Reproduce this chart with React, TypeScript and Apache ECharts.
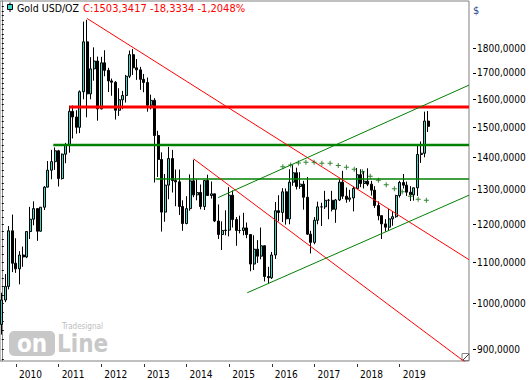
import React, { useEffect, useRef } from 'react';
import * as echarts from 'echarts';

// ---- data (monthly candles, Sep 2009 .. Sep 2019) ----
const START_YEAR = 2009;
const START_MONTH = 9;
const TOTAL_MONTHS = 132; // includes empty future months up to the right edge

const opens = [
  953, 1008, 1040, 1182,
  1097, 1083, 1118, 1113, 1180, 1214, 1244, 1181, 1248, 1307, 1359, 1386,
  1421, 1333, 1410, 1439, 1556, 1536, 1500, 1628, 1826, 1620, 1716, 1747,
  1565, 1740, 1710, 1669, 1664, 1560, 1598, 1614, 1687, 1773, 1720, 1712,
  1675, 1663, 1578, 1596, 1472, 1393, 1234, 1313, 1396, 1327, 1323, 1250,
  1202, 1244, 1326, 1284, 1291, 1250, 1327, 1282, 1287, 1209, 1172, 1183,
  1184, 1283, 1213, 1183, 1183, 1190, 1172, 1095, 1133, 1115, 1142, 1064,
  1061, 1118, 1238, 1233, 1293, 1215, 1322, 1351, 1309, 1316, 1277, 1173,
  1151, 1211, 1249, 1249, 1268, 1268, 1242, 1269, 1322, 1280, 1271, 1275,
  1303, 1345, 1318, 1325, 1316, 1298, 1253, 1224, 1201, 1192, 1215, 1221,
  1282, 1321, 1313, 1292, 1284, 1305, 1409, 1413, 1521.6751,
];
const highs = [
  1025, 1070, 1195, 1227,
  1162, 1128, 1140, 1180, 1249, 1265, 1245, 1248, 1310, 1388, 1424, 1432,
  1424, 1412, 1447, 1576, 1577, 1560, 1633, 1913, 1921, 1763, 1803, 1765,
  1764, 1791, 1720, 1678, 1668, 1641, 1631, 1692, 1790, 1796, 1755, 1724,
  1696, 1682, 1617, 1604, 1488, 1416, 1347, 1434, 1424, 1361, 1361, 1268,
  1280, 1346, 1392, 1331, 1315, 1326, 1345, 1324, 1287, 1256, 1208, 1239,
  1307, 1297, 1220, 1224, 1232, 1205, 1173, 1170, 1157, 1191, 1143, 1088,
  1126, 1263, 1283, 1304, 1303, 1362, 1375, 1367, 1353, 1326, 1338, 1182,
  1220, 1264, 1261, 1296, 1272, 1296, 1272, 1331, 1357, 1306, 1299, 1309,
  1366, 1362, 1356, 1365, 1326, 1310, 1265, 1225, 1214, 1243, 1237, 1284,
  1326, 1347, 1324, 1310, 1306, 1439, 1452, 1555, 1557,
];
const lows = [
  931, 1003, 1033, 1075,
  1073, 1045, 1088, 1110, 1160, 1197, 1155, 1180, 1240, 1308, 1331, 1360,
  1309, 1330, 1381, 1415, 1462, 1478, 1480, 1600, 1535, 1600, 1670, 1523,
  1563, 1687, 1627, 1613, 1527, 1540, 1564, 1588, 1680, 1692, 1673, 1635,
  1626, 1555, 1563, 1321, 1338, 1180, 1207, 1271, 1291, 1251, 1226, 1182,
  1200, 1238, 1277, 1268, 1242, 1240, 1281, 1273, 1206, 1160, 1131, 1170,
  1167, 1191, 1142, 1175, 1170, 1162, 1077, 1080, 1098, 1107, 1052, 1046,
  1058, 1108, 1208, 1206, 1199, 1200, 1311, 1300, 1302, 1241, 1171, 1122,
  1146, 1200, 1195, 1243, 1214, 1236, 1204, 1266, 1272, 1261, 1264, 1236,
  1302, 1307, 1303, 1310, 1282, 1246, 1211, 1160, 1180, 1182, 1196, 1218,
  1276, 1303, 1281, 1266, 1267, 1281, 1382, 1400, 1484,
];
const closes = [
  1008, 1040, 1182, 1097,
  1083, 1118, 1113, 1180, 1214, 1244, 1181, 1248, 1307, 1359, 1386, 1421,
  1333, 1410, 1439, 1556, 1536, 1500, 1628, 1826, 1620, 1716, 1747, 1565,
  1740, 1710, 1669, 1664, 1560, 1598, 1614, 1687, 1773, 1720, 1712, 1675,
  1663, 1578, 1596, 1472, 1393, 1234, 1313, 1396, 1327, 1323, 1250, 1202,
  1244, 1326, 1284, 1291, 1250, 1327, 1282, 1287, 1209, 1172, 1183, 1184,
  1283, 1213, 1183, 1183, 1190, 1172, 1095, 1133, 1115, 1142, 1064, 1061,
  1118, 1238, 1233, 1293, 1215, 1322, 1351, 1309, 1316, 1277, 1173, 1151,
  1211, 1249, 1249, 1268, 1268, 1242, 1269, 1322, 1280, 1271, 1275, 1303,
  1345, 1318, 1325, 1316, 1298, 1253, 1224, 1201, 1192, 1215, 1221, 1282,
  1321, 1313, 1292, 1284, 1305, 1409, 1413, 1521.6751, 1503.3417,
];

const yearLabels = ['2010', '2011', '2012', '2013', '2014', '2015', '2016', '2017', '2018', '2019'];
const priceLabels = [900, 1000, 1100, 1200, 1300, 1400, 1500, 1600, 1700, 1800];
const minorTicks = [
  880, 900, 920, 940, 960, 980, 1000, 1020, 1040, 1060, 1080, 1100, 1120, 1140, 1160, 1180,
  1200, 1220, 1240, 1260, 1280, 1300, 1320, 1340, 1360, 1380, 1400, 1420, 1440, 1460, 1480,
  1500, 1520, 1540, 1560, 1580, 1600, 1620, 1640, 1660, 1680, 1700, 1720, 1740, 1760, 1780,
  1800, 1820, 1840, 1860, 1880, 1900, 1920, 1940, 1960, 1980,
];

// drawings: [month index, price]
const redLevel = [[19, 1572], [131.5, 1572]];
const greenLevel = [[14.5, 1440], [131.5, 1440]];
const greenLevelThin = [[43.3, 1332], [131.5, 1332]];
const redTrendLong = [[24, 1927], [131.5, 1106]];
const redTrendShort = [[54, 1395], [131.5, 868]];
const greenChannelUpper = [[60.9, 1276], [131.5, 1653]];
const greenChannelLower = [[69.1, 1025], [131.5, 1283]];
const arcX = [79.1, 81.3, 83.5, 85.6, 87.9, 90.1, 92.4, 94.7, 97.0, 99.2, 101.5, 103.7, 106.0, 108.2, 110.5, 112.7, 115.0, 117.2, 119.5];
const arcY = [1370, 1375, 1382, 1384, 1384, 1381, 1381, 1374, 1368, 1362, 1354, 1340, 1328, 1314, 1302, 1293, 1280, 1271, 1268];

const categories: string[] = [];
for (let i = 0; i < TOTAL_MONTHS; i++) {
  const m = START_MONTH - 1 + i;
  categories.push(`${START_YEAR + Math.floor(m / 12)}-${String((m % 12) + 1).padStart(2, '0')}`);
}

const FONT = "Tahoma, 'DejaVu Sans Condensed', 'DejaVu Sans', sans-serif";
const BULL = '#3dd6ca';
const fmt4 = (v: number) => v.toFixed(4).replace('.', ',');

export default function App() {
  const ref = useRef<HTMLDivElement>(null);
  useEffect(() => {
    if (!ref.current) return;
    const chart = echarts.init(ref.current, undefined, { renderer: 'svg' });
    const candleData = opens.map((o, i) => [o, closes[i], lows[i], highs[i]]);
    const last = closes[closes.length - 1];
    const prev = closes[closes.length - 2];
    const chg = last - prev;
    const pct = (chg / prev) * 100;
    const yMin = 876;
    const yMax = 2006;
    const lineSeries = (data: number[][], color: string, width: number) => ({
      type: 'line',
      xAxisIndex: 1,
      yAxisIndex: 0,
      data,
      symbol: 'none',
      silent: true,
      lineStyle: { color, width },
      z: 5,
    });
    chart.setOption({
      animation: false,
      backgroundColor: '#ffffff',
      grid: {
        left: 0, right: 63, top: 1, bottom: 19,
        show: true, borderColor: '#808080', borderWidth: 1, backgroundColor: '#ffffff',
      },
      xAxis: [
        {
          type: 'category',
          data: categories,
          boundaryGap: true,
          offset: 3,
          axisLine: { show: false },
          axisTick: {
            show: true,
            alignWithLabel: true,
            length: 3,
            interval: (_i: number, v: string) => v.endsWith('-01') && yearLabels.includes(v.slice(0, 4)),
            lineStyle: { color: '#333' },
          },
          axisLabel: {
            interval: (_i: number, v: string) => v.endsWith('-01') && yearLabels.includes(v.slice(0, 4)),
            formatter: (v: string) => v.slice(0, 4),
            align: 'left',
            padding: [0, 0, 0, 3],
            margin: 5,
            color: '#000',
            fontFamily: FONT,
            fontSize: 10,
          },
          splitLine: { show: false },
        },
        { type: 'value', min: -0.5, max: TOTAL_MONTHS - 0.5, show: false },
      ],
      yAxis: [
        {
          type: 'log',
          logBase: 10,
          position: 'right',
          min: yMin,
          max: yMax,
          axisLine: { show: true, lineStyle: { color: '#808080' } },
          axisTick: { show: true, customValues: minorTicks, length: 2, lineStyle: { color: '#000' } },
          axisLabel: {
            customValues: priceLabels,
            formatter: (v: number) => fmt4(v),
            margin: 8,
            color: '#000',
            fontFamily: FONT,
            fontSize: 10,
          },
          splitLine: { show: false },
        },
        {
          type: 'log',
          logBase: 10,
          position: 'right',
          offset: 4,
          min: yMin,
          max: yMax,
          axisLine: { show: false },
          axisTick: { show: true, customValues: priceLabels, length: 3, lineStyle: { color: '#000' } },
          axisLabel: { show: false },
          splitLine: { show: false },
        },
      ],
      series: [
        lineSeries(redLevel, '#ff0000', 3),
        lineSeries(greenLevel, '#008000', 2.5),
        lineSeries(greenLevelThin, '#008000', 1.5),
        lineSeries(redTrendLong, '#ff0000', 1),
        lineSeries(redTrendShort, '#ff0000', 1),
        lineSeries(greenChannelUpper, '#008000', 1),
        lineSeries(greenChannelLower, '#008000', 1),
        {
          type: 'scatter',
          xAxisIndex: 1,
          yAxisIndex: 0,
          data: arcX.map((x, i) => [x, arcY[i]]),
          symbol: 'path://M2,0H3V2H5V3H3V5H2V3H0V2H2Z',
          symbolSize: 5,
          itemStyle: { color: '#006400' },
          silent: true,
          z: 6,
        },
        {
          type: 'candlestick',
          name: 'Gold USD/OZ',
          xAxisIndex: 0,
          yAxisIndex: 0,
          data: candleData,
          barWidth: 2.5,
          itemStyle: {
            color: BULL, color0: '#000000',
            borderColor: '#000000', borderColor0: '#000000', borderWidth: 1,
          },
          z: 4,
        },
      ],
      graphic: [
        { type: 'line', shape: { x1: 10, y1: 2.5, x2: 10, y2: 12 }, style: { stroke: '#000', lineWidth: 1 } },
        { type: 'rect', shape: { x: 7.5, y: 4.5, width: 5, height: 5 }, style: { fill: BULL, stroke: '#000', lineWidth: 1 } },
        { type: 'text', x: 17, y: 8, style: { text: 'Gold USD/OZ', fill: '#000', font: `10.5px ${FONT}`, verticalAlign: 'middle' } },
        {
          type: 'text', x: 83, y: 8,
          style: { text: `C:${fmt4(last)} ${fmt4(chg)} ${fmt4(pct)}%`, fill: '#ff0000', font: `11px ${FONT}`, verticalAlign: 'middle' },
        },
        { type: 'text', x: 473, y: 10, style: { text: '$', fill: '#2a4b8d', font: `11px ${FONT}`, verticalAlign: 'middle' } },
        // watermark
        { type: 'text', x: 62, y: 326, style: { text: 'Tradesignal', fill: '#bdbdbd', font: `8px ${FONT}`, verticalAlign: 'middle' } },
        { type: 'rect', shape: { x: 9, y: 331, width: 46, height: 25, r: 5 }, style: { fill: '#c8c8c8' } },
        { type: 'text', x: 32, y: 344, style: { text: 'on', fill: '#ffffff', font: `bold 24px ${FONT}`, align: 'center', verticalAlign: 'middle' } },
        { type: 'text', x: 57, y: 344, style: { text: 'Line', fill: '#c8c8c8', font: `bold 24px ${FONT}`, verticalAlign: 'middle' } },
        // resize glyph
        { type: 'rect', shape: { x: 462, y: 353.5, width: 7, height: 7 }, style: { fill: '#fff', stroke: '#808080', lineWidth: 1 } },
        { type: 'line', shape: { x1: 463, y1: 360, x2: 469, y2: 354 }, style: { stroke: '#404040', lineWidth: 1 } },
      ],
    });
    return () => chart.dispose();
  }, []);
  return <div ref={ref} style={{ width: 532, height: 380, position: 'absolute', left: 0, top: 0 }} />;
}
